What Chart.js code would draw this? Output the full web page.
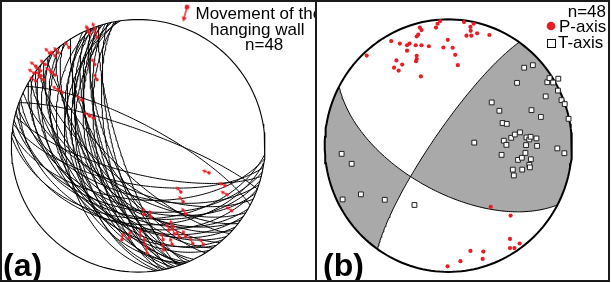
<!DOCTYPE html>
<html>
<head>
<meta charset="utf-8">
<script src="https://cdn.jsdelivr.net/npm/chart.js@4.4.0/dist/chart.umd.min.js"></script>
<style>
html, body { margin: 0; padding: 0; background: #fff; }
#fig { position: absolute; left: 0; top: 0; width: 606px; height: 278px; border: 2px solid #1a1a1a; }
#divider { position: absolute; left: 313px; top: 0; width: 2px; height: 278px; background: #1a1a1a; }
.panel { position: absolute; top: 0; height: 278px; overflow: hidden; }
#pa { left: 0; width: 313px; }
#pb { left: 315px; width: 291px; }
.panel canvas { position: absolute; left: 0; top: 0; }
.t { position: absolute; font-family: "Liberation Sans", Arial, sans-serif; font-size: 17px; line-height: 17px; white-space: nowrap; color: #000; }
.lab { font-weight: bold; font-size: 32px; line-height: 32px; }
</style>
</head>
<body>
<div id="fig">
  <div class="panel" id="pa">
    <canvas id="chartA" width="313" height="278"></canvas>
    <div class="t" style="left:193.5px;top:3px">Movement of the</div>
    <div class="t" style="left:208px;top:18.5px">hanging wall</div>
    <div class="t" style="left:243px;top:33.5px">n=48</div>
    <div class="t lab" style="left:1px;top:247px">(a)</div>
  </div>
  <div id="divider"></div>
  <div class="panel" id="pb">
    <canvas id="chartB" width="291" height="278"></canvas>
    <div class="t" style="right:2px;top:1px">n=48</div>
    <div class="t" style="left:242px;top:15.5px">P-axis</div>
    <div class="t" style="left:241px;top:31.5px">T-axis</div>
    <div class="t lab" style="left:6px;top:247px">(b)</div>
  </div>
</div>
<script>
// fault planes (dip direction / dip, degrees)
const faultDipDir = [244, 246, 247, 248, 249, 250, 250, 251, 252, 253, 254, 255, 256, 257, 258, 259, 260, 261, 262, 248,
  210, 212, 214, 216, 218, 220, 222, 224, 226, 228, 230, 232, 234, 236, 238,
  184, 186, 188, 190, 192, 194, 196, 198, 200, 202, 205, 20, 28];
const faultDip = [58, 64, 50, 72, 55, 62, 46, 68, 78, 60, 52, 66, 74, 57, 48, 70, 63, 50, 42, 40,
  45, 60, 40, 52, 66, 42, 56, 72, 48, 38, 62, 44, 58, 41, 68,
  42, 55, 38, 65, 48, 72, 44, 58, 37, 50, 62, 80, 76];

// striae, projected position (unit net), sense: 1 = down-plunge, -1 = up-plunge
const striaX = [-0.392, -0.383, -0.342, -0.324, -0.546, -0.698, -0.655, -0.630, -0.732, -0.808, -0.770, -0.821,
  -0.765, -0.808, -0.749, -0.688, -0.655, -0.630, -0.597, -0.444, -0.383, -0.342, -0.324, -0.352,
  0.559, 0.686, 0.701, 0.737, 0.337, 0.355, 0.375, 0.274, 0.045, 0.101, -0.128, -0.070,
  0.019, 0.050, 0.070, 0.197, 0.202, 0.243, 0.286, 0.324, 0.375, 0.431, 0.515, 0.268];
const striaY = [0.905, 0.891, 0.924, 0.860, 0.779, 0.733, 0.712, 0.738, 0.644, 0.631, 0.593, 0.575,
  0.555, 0.514, 0.524, 0.585, 0.560, 0.440, 0.422, 0.361, 0.237, 0.644, 0.524, 0.219,
  -0.214, -0.316, -0.387, -0.514, -0.366, -0.443, -0.539, -0.641, -0.545, -0.565, -0.743, -0.730,
  -0.712, -0.781, -0.850, -0.743, -0.824, -0.667, -0.697, -0.723, -0.718, -0.774, -0.781, -0.781];
const striaSense = [1, 1, 1, 1, 1, 1, 1, 1, 1, 1, 1, 1, 1, 1, 1, 1, 1, 1, 1, 1, 1, 1, 1, 1,
  -1, -1, -1, -1, -1, -1, -1, -1, -1, -1, -1, -1, -1, -1, -1, -1, -1, -1, -1, -1, -1, -1, -1, -1];

// P and T axes, projected position (unit net)
const pAxisX = [-0.660, -0.462, -0.392, -0.420, -0.439, -0.402, -0.373, -0.334, -0.334, -0.314, -0.264, -0.256,
  -0.243, -0.230, -0.217, -0.256, -0.256, -0.261, -0.222, -0.217, -0.157, -0.100, -0.087, -0.066,
  -0.040, -0.004, 0.035, 0.056, 0.077, 0.127, 0.179, 0.181, 0.205, 0.147, 0.186, 0.233, 0.332,
  0.343, 0.504, 0.499, 0.577, 0.499, 0.535, 0.179, 0.283, 0.278, 0.098, -0.006];
const pAxisY = [0.713, 0.828, 0.808, 0.675, 0.617, 0.594, 0.642, 0.795, 0.752, 0.808, 0.795, 0.864,
  0.879, 0.935, 0.915, 0.711, 0.686, 0.668, 0.548, 0.795, 0.787, 0.935, 0.965, 0.986,
  0.777, 0.838, 0.775, 0.719, 0.637, 0.978, 0.940, 0.909, 0.965, 0.871, 0.871, 0.889, 0.876,
  -0.485, -0.554, -0.739, -0.775, -0.811, -0.811, -0.834, -0.839, -0.897, -0.915, -0.956];
const tAxisX = [-0.863, -0.782, -0.707, -0.855, -0.514, -0.274, 0.210, 0.351, 0.413, 0.439, 0.473, 0.449,
  0.470, 0.509, 0.538, 0.580, 0.431, 0.522, 0.530, 0.564, 0.595, 0.598, 0.624, 0.629,
  0.632, 0.655, 0.666, 0.668, 0.655, 0.660, 0.713, 0.718, 0.673, 0.749, 0.556, 0.614,
  0.684, 0.788, 0.801, 0.819, 0.848, 0.890, 0.887, 0.916, 0.942, 0.973, 0.882, 0.939];
const tAxisY = [-0.065, -0.144, -0.386, -0.426, -0.429, -0.470, 0.024, 0.342, 0.276, 0.179, 0.172, 0.039,
  0.006, 0.062, 0.088, 0.105, -0.073, -0.190, -0.236, -0.113, -0.096, -0.190, -0.058, 0.004,
  0.065, 0.049, 0.070, -0.108, -0.152, -0.172, 0.057, -0.002, 0.281, 0.227, 0.497, 0.617,
  0.637, 0.390, 0.502, 0.535, 0.500, 0.530, 0.436, 0.360, 0.329, 0.212, -0.022, -0.060];

// nodal planes of the mean solution (dip direction / dip)
const nodalDipDir = [208, 305];
const nodalDip = [60, 80];

const RED = 'rgb(232,28,36)';
const GREY = '#a9a9a9';
const D = Math.PI / 180;

// lower hemisphere, equal area
function proj(trend, plunge) {
  const r = Math.SQRT2 * Math.sin((90 - plunge) / 2 * D);
  return { x: r * Math.sin(trend * D), y: r * Math.cos(trend * D) };
}
function planeVec(dd, dip) {
  const sa = (dd - 90) * D;
  return {
    s: [Math.sin(sa), Math.cos(sa), 0],
    d: [Math.cos(dip * D) * Math.sin(dd * D), Math.cos(dip * D) * Math.cos(dd * D), Math.sin(dip * D)]
  };
}
function lineAt(pv, th) {
  const c = Math.cos(th * D), sn = Math.sin(th * D);
  const v = [0, 1, 2].map(k => c * pv.s[k] + sn * pv.d[k]);
  const trend = Math.atan2(v[0], v[1]) / D;
  const plunge = Math.asin(Math.max(-1, Math.min(1, v[2]))) / D;
  return proj(trend, plunge);
}
function greatCircle(dd, dip, t0 = 0, t1 = 180) {
  const pv = planeVec(dd, dip);
  const pts = [];
  const n = 120;
  for (let i = 0; i <= n; i++) pts.push(lineAt(pv, t0 + (t1 - t0) * i / n));
  return pts;
}
function rim(a0, a1) {
  const pts = [];
  const n = Math.max(2, Math.ceil(Math.abs(a1 - a0) / 2));
  for (let i = 0; i <= n; i++) {
    const a = (a0 + (a1 - a0) * i / n) * D;
    pts.push({ x: Math.sin(a), y: Math.cos(a) });
  }
  return pts;
}
const cross = (a, b) => [a[1] * b[2] - a[2] * b[1], a[2] * b[0] - a[0] * b[2], a[0] * b[1] - a[1] * b[0]];
const dot = (a, b) => a[0] * b[0] + a[1] * b[1] + a[2] * b[2];

function arrowImage(len, dotR, head, lw) {
  const size = Math.ceil(len * 2 + 6);
  const c = document.createElement('canvas');
  c.width = size; c.height = size;
  const g = c.getContext('2d');
  const m = size / 2;
  g.fillStyle = RED; g.strokeStyle = RED; g.lineWidth = lw;
  g.beginPath(); g.arc(m, m, dotR, 0, Math.PI * 2); g.fill();
  g.beginPath(); g.moveTo(m, m); g.lineTo(m, m - len + head * 0.8); g.stroke();
  g.beginPath(); g.moveTo(m, m - len); g.lineTo(m - head * 0.6, m - len + head); g.lineTo(m + head * 0.6, m - len + head); g.closePath(); g.fill();
  return c;
}

function frameScales(W, H, cx, cy, Rx, Ry) {
  return {
    x: { type: 'linear', display: false, min: -cx / Rx, max: (W - cx) / Rx },
    y: { type: 'linear', display: false, min: -(H - cy) / Ry, max: cy / Ry }
  };
}
const baseOpts = {
  responsive: false, animation: false, events: [], devicePixelRatio: 1,
  layout: { padding: 0 },
  plugins: { legend: { display: false }, tooltip: { enabled: false } }
};
const lineSet = (pts, width, order) => ({
  data: pts, showLine: true, borderColor: '#000', borderWidth: width,
  pointRadius: 0, fill: false, tension: 0, order: order, clip: false
});

// ---------- panel (a) ----------
const arrowSmall = arrowImage(7.5, 1.7, 3.4, 1.3);
const arrowLegend = arrowImage(15, 2.4, 4.5, 1.4);
const dsA = [];
dsA.push({
  data: striaX.map((x, i) => ({ x: x, y: striaY[i] })),
  pointStyle: arrowSmall, pointRadius: 3,
  pointRotation: ctx => {
    const i = ctx.dataIndex;
    const tr = Math.atan2(striaX[i], striaY[i]) / D;
    return striaSense[i] > 0 ? tr : tr + 180;
  },
  order: 1, clip: false
});
faultDipDir.forEach((dd, i) => dsA.push(lineSet(greatCircle(dd, faultDip[i]), 1, 3)));
dsA.push(lineSet(rim(0, 360), 1.1, 4));

const legendA = {
  id: 'legendA',
  afterDraw(chart) {
    const g = chart.ctx;
    g.save();
    g.translate(185, 5);
    g.rotate(195 * D);
    g.drawImage(arrowLegend, -arrowLegend.width / 2, -arrowLegend.height / 2);
    g.restore();
  }
};

new Chart(document.getElementById('chartA'), {
  type: 'scatter',
  data: { datasets: dsA },
  options: Object.assign({}, baseOpts, { scales: frameScales(313, 278, 135.5, 144, 131, 131) }),
  plugins: [legendA]
});

// ---------- panel (b) ----------
const pv1 = planeVec(nodalDipDir[0], nodalDip[0]);
const pv2 = planeVec(nodalDipDir[1], nodalDip[1]);
let inter = cross(cross(pv1.s, pv1.d), cross(pv2.s, pv2.d));
const nrm = Math.sqrt(dot(inter, inter));
inter = inter.map(v => v / nrm * (inter[2] < 0 ? -1 : 1));
const th1 = Math.atan2(dot(inter, pv1.d), dot(inter, pv1.s)) / D;
const th2 = Math.atan2(dot(inter, pv2.d), dot(inter, pv2.s)) / D;
const az1 = nodalDipDir[0] - 90, az2 = nodalDipDir[1] + 90 - 360;

const shadeRight = [].concat(
  greatCircle(nodalDipDir[1], nodalDip[1], 180, th2),
  greatCircle(nodalDipDir[0], nodalDip[0], th1, 0),
  rim(az1, az2));
const shadeLeft = [].concat(
  greatCircle(nodalDipDir[0], nodalDip[0], 180, th1),
  greatCircle(nodalDipDir[1], nodalDip[1], th2, 0),
  rim(nodalDipDir[1] - 90, nodalDipDir[0] + 90));

const shadeSet = pts => ({
  data: pts, showLine: true, borderWidth: 0, borderColor: 'rgba(0,0,0,0)',
  backgroundColor: GREY, fill: 'shape', pointRadius: 0, tension: 0, order: 6, clip: false
});

const dsB = [
  {
    data: pAxisX.map((x, i) => ({ x: x, y: pAxisY[i] })),
    pointStyle: 'circle', pointRadius: 2.1, pointBackgroundColor: RED, pointBorderWidth: 0,
    order: 1, clip: false
  },
  {
    data: tAxisX.map((x, i) => ({ x: x, y: tAxisY[i] })),
    pointStyle: 'rect', pointRadius: 3.4, pointBackgroundColor: '#fff',
    pointBorderColor: '#222', pointBorderWidth: 1, order: 1, clip: false
  },
  lineSet(greatCircle(nodalDipDir[0], nodalDip[0]), 1, 3),
  lineSet(greatCircle(nodalDipDir[1], nodalDip[1]), 1, 3),
  lineSet(rim(0, 360), 2, 2),
  shadeSet(shadeRight),
  shadeSet(shadeLeft)
];

const legendB = {
  id: 'legendB',
  afterDraw(chart) {
    const g = chart.ctx;
    g.save();
    g.fillStyle = RED;
    g.beginPath(); g.arc(234, 24, 4.3, 0, Math.PI * 2); g.fill();
    g.fillStyle = '#fff'; g.strokeStyle = '#111'; g.lineWidth = 1;
    g.fillRect(230.5, 37.5, 8, 8); g.strokeRect(230.5, 37.5, 8, 8);
    g.restore();
  }
};

new Chart(document.getElementById('chartB'), {
  type: 'scatter',
  data: { datasets: dsB },
  options: Object.assign({}, baseOpts, { scales: frameScales(291, 278, 130.8, 143.8, 128, 131) }),
  plugins: [legendB]
});
</script>
</body>
</html>
